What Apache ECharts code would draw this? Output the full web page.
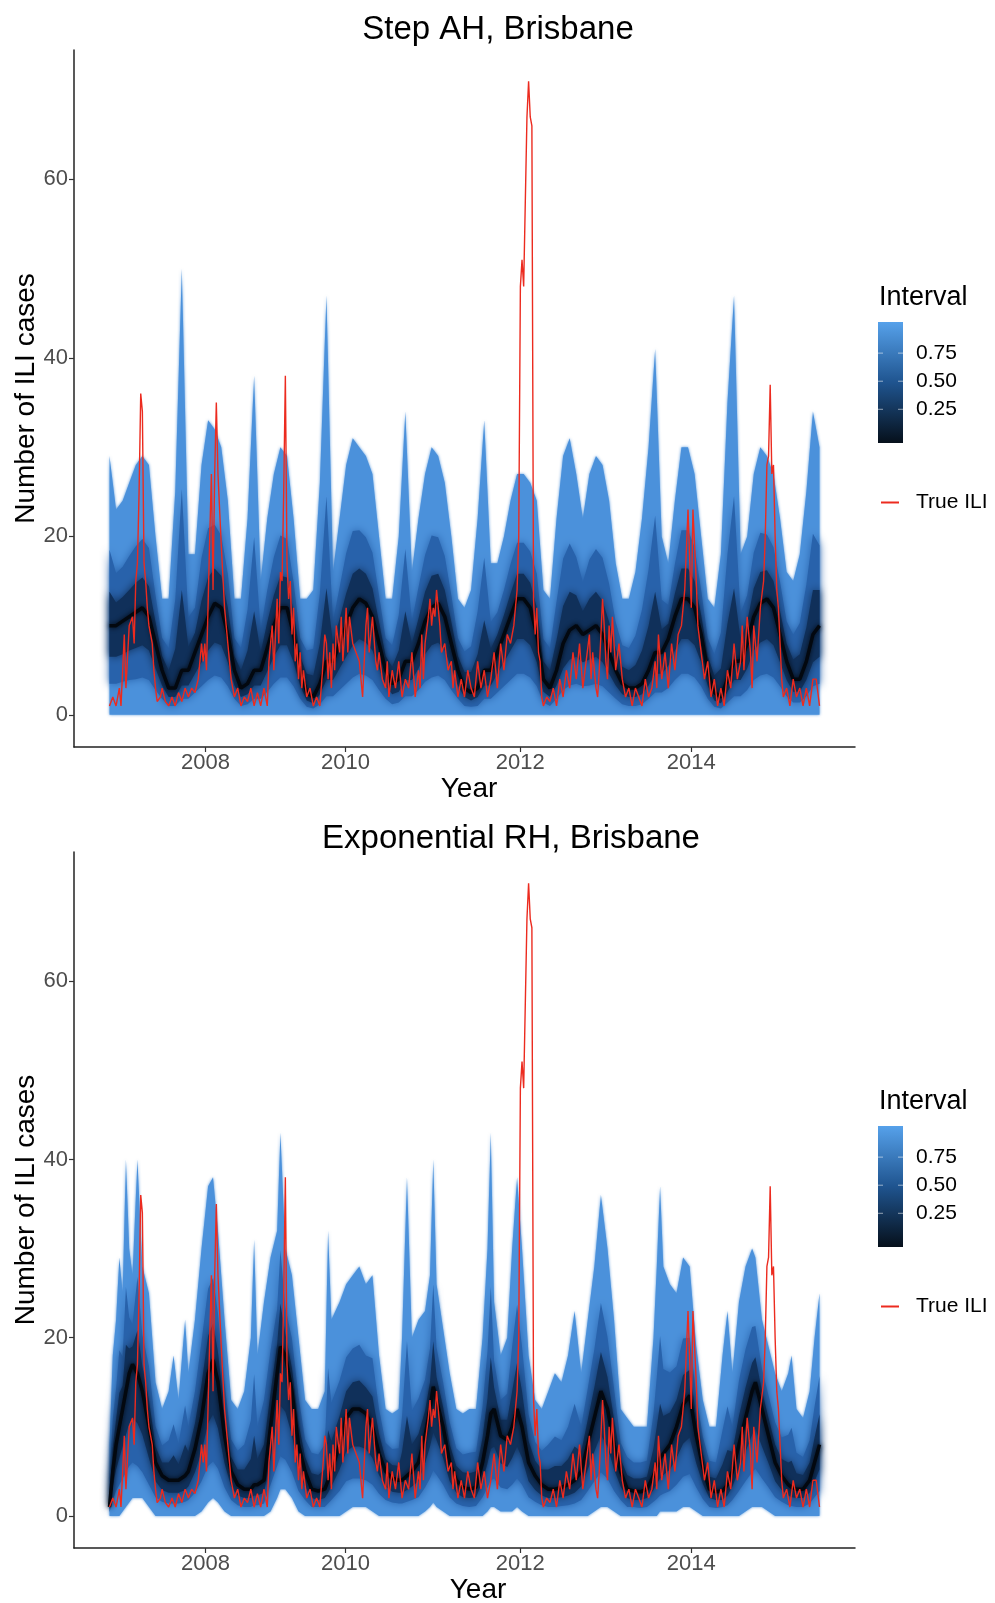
<!DOCTYPE html>
<html>
<head>
<meta charset="utf-8">
<title>ILI forecast intervals, Brisbane</title>
<script src="https://cdn.jsdelivr.net/npm/echarts@6/dist/echarts.min.js"></script>
<style>
  html, body { margin: 0; padding: 0; background: #ffffff; }
  #chart { width: 995px; height: 1603px; }
</style>
</head>
<body>
<div id="chart"></div>
<script>
// ---- Axis ticks ----------------------------------------------------------
// x positions are the running week index of the series
const yearTickWeeks = [58.4, 143.6, 249.9, 353.9];
const yearTickLabels = ['2008', '2010', '2012', '2014'];
const caseTicks = [0, 20, 40, 60];
const intervalBreaks = [0.25, 0.5, 0.75];
const intervalBreakLabels = ['0.25', '0.50', '0.75'];

// ---- Observed weekly ILI counts ("True ILI") -----------------------------
const iliWeeks = [
  0,2,4,6,7,9,10,12,14,15, 16,17,18,19,20,21,22,23,24,26,
  27,28,29,31,32,34,36,38,40,42, 44,46,48,50,52,54,56,57,58,59,
  61,62,63,64,65,66,67,68,70,72, 74,76,78,80,82,84,86,88,90,92,
  94,96,97,99,100,101,102,103,104,105, 106,107,108,109,110,111,112,113,114,115,
  116,117,118,120,122,124,126,128,130,131, 132,133,134,135,136,137,138,140,141,142,
  143,144,145,146,148,150,152,154,156,157, 158,160,162,163,164,166,168,169,170,172,
  174,176,178,180,182,184,186,188,189,190, 191,192,194,195,196,197,198,199,200,201,
  202,204,206,208,209,210,212,214,216,218, 220,222,224,226,228,230,232,234,236,238,
  240,242,244,246,248,249,250,251,252,253, 254,255,256,257,258,259,260,261,262,263,
  264,266,268,270,272,274,276,278,280,282, 284,286,288,290,292,293,294,296,297,298,
  300,301,302,303,304,305,306,308,310,312, 314,316,318,320,322,324,326,328,330,332,
  333,334,336,338,340,342,344,346,348,350, 352,353,354,355,356,357,358,360,362,364,
  366,368,370,372,374,376,378,380,382,384, 385,386,388,390,391,392,394,396,398,399,
  400,401,402,403,404,405,406,407,408,409, 410,412,414,416,418,420,422,424,426,428,
  430,431,432
];
const iliCases = [
  1,2,1,3,1,9,3,10,11,8, 15,17,25,36,34,17,15,12,10,8,
  5,3,1.5,2,3,1.5,1,2,1,2.5, 1.5,3,2,3,2.5,4,8,6,8,5,
  20,27,14,27,35,27,27,19,12,8, 4,2,3,1,2,1.5,3,1,2.5,1,
  3,1,6,10,5,9,13,8,16,15, 25,38,17,13,15,9,12,6,8,4,
  7,3,5,2,3,1,2,1,6,9, 8,4,7,3,8,5,10,7,11,6,
  9,12,7,11,8,7,6,2,10,12, 7,11,6,5,7,4,3,6,2,5,
  3,6,2,4,3,7,2,5,3,9, 4,8,11,13,10,12,11,14,12,10,
  7,8,5,6,3,5,2,4,2,5, 3,2,6,3,5,2,4,7,3,8,
  5,9,8,10,14,20,48,51,48,48, 67,71,67,66,13,9,12,7,6,2,
  1,2,1.5,3,1,4,2,5,3,7, 4,8,3,6,9,4,7,3,2,5,
  13,10,6,4,10,7,11,5,8,4, 2,3,1,3,2,1,4,2,3,6,
  3,9,4,7,3,8,5,9,10,14, 23,23,12,23,23,15,10,7,4,6,
  2,4,1,3,1,5,3,8,4,6, 10,5,11,7,3,10,6,12,15,20,
  28,29,37,27,28,20,14,12,8,4, 2,3,1,4,2,3,1,3,1,4,
  4,4,1
];

// ---- Step AH model: forecast distribution (every 4 weeks) ----------------
const stepWeeks = [
  0,4,8,12,16,20,24,28,32,36, 40,44,48,52,56,60,64,68,72,76,
  80,84,88,92,96,100,104,108,112,116, 120,124,128,132,136,140,144,148,152,156,
  160,164,168,172,176,180,184,188,192,196, 200,204,208,212,216,220,224,228,232,236,
  240,244,248,252,256,260,264,268,272,276, 280,284,288,292,296,300,304,308,312,316,
  320,324,328,332,336,340,344,348,352,356, 360,364,368,372,376,380,384,388,392,396,
  400,404,408,412,416,420,424,428,432
];
const stepOuterHi = [
  29,23,24,26,28,29,28,20,13,13, 25,50,18,18,28,33,32,30,24,13,
  13,22,38,15,22,27,30,29,22,13, 13,14,26,47,16,22,28,31,30,29,
  27,20,13,13,20,34,16,22,27,30, 29,26,20,13,12,14,22,33,17,17,
  20,24,27,27,26,24,14,13,22,29, 31,27,22,27,29,28,24,17,13,13,
  16,22,30,41,20,17,24,30,30,27, 20,13,12,18,35,47,18,20,27,30,
  29,27,22,16,15,18,25,34,30
];
const stepMidHi = [
  18.5,15.9,16.6,17.8,18.9,19.7,18.7,13.4,8.6,7.5, 12.9,25.3,10.9,12,17.6,20.9,21.3,20.1,15.8,8.6,
  7.5,11.8,19.9,9.5,14,17.7,20.1,19.7,14.9,8.6, 7.2,7.4,13.6,24.5,10.5,14.3,18.1,20.6,20.7,19.9,
  18.2,13.4,8.6,7.8,11.2,18.6,10.5,14.3,17.9,20.1, 19.9,17.8,13.4,8.6,7.1,7.7,11.6,17.6,10.4,11.5,
  14,16.9,19.3,19.3,18.3,15.8,8.5,7.5,12.7,17.5, 19.2,17.7,14.9,17.4,18.6,17.6,14.7,10.4,7.8,7.5,
  8.9,11.8,16.3,22.3,12.9,12.3,16.9,20.7,20.7,18.8, 14,8.6,6.8,9.2,18,24.5,11.4,13.4,18.2,20.4,
  20.2,18.8,14.9,10.5,9,10.3,14.6,20.3,19
];
const stepInnerHi = [
  13.8,12.6,13.2,14,14.8,15.4,14.4,10.4,6.6,5, 7.4,14,7.6,9.2,12.8,15.4,16.4,15.6,12,6.6,
  5,7.2,11.6,7,10.4,13.4,15.6,15.4,11.6,6.6, 4.6,4.4,8,14.2,8,10.8,13.6,15.8,16.4,15.8,
  14.2,10.4,6.6,5.4,7.2,11.6,8,10.8,13.8,15.6, 15.8,14,10.4,6.6,4.8,4.8,6.8,10.6,7.4,9,
  11.2,13.6,15.8,15.8,14.8,12,6,5,8.4,12.2, 13.8,13.4,11.6,13,13.8,12.8,10.4,7.4,5.4,5,
  5.6,7.2,10,13.8,9.6,10.2,13.6,16.4,16.4,15, 11.2,6.6,4.4,5.2,10.2,14.2,8.4,10.4,14.2,16,
  16.2,15,11.6,8,6.2,6.8,9.8,14,14
];
const stepMedian = [
  10,10,10.5,11,11.5,12,11,8,5,3, 3,5,5,7,9,11,12.5,12,9,5,
  3,3.5,5,5,7.5,10,12,12,9,5, 2.5,2,3.5,6,6,8,10,12,13,12.5,
  11,8,5,3.5,4,6,6,8,10.5,12, 12.5,11,8,5,3,2.5,3,5,5,7,
  9,11,13,13,12,9,4,3,5,8, 9.5,10,9,9.5,10,9,7,5,3.5,3,
  3,3.5,5,7,7,8.5,11,13,13,12, 9,5,2.5,2,4,6,6,8,11,12.5,
  13,12,9,6,4,4,6,9,10
];
const stepInnerLo = [
  6.5,6.5,6.8,7.2,7.5,7.8,7.2,5.2,3.3,2, 2,3.3,3.3,4.6,5.9,7.2,8.1,7.8,5.9,3.3,
  2,2.3,3.3,3.3,4.9,6.5,7.8,7.8,5.9,3.3, 1.6,1.3,2.3,3.9,3.9,5.2,6.5,7.8,8.5,8.1,
  7.2,5.2,3.3,2.3,2.6,3.9,3.9,5.2,6.8,7.8, 8.1,7.2,5.2,3.3,2,1.6,2,3.3,3.3,4.6,
  5.9,7.2,8.5,8.5,7.8,5.9,2.6,2,3.3,5.2, 6.2,6.5,5.9,6.2,6.5,5.9,4.6,3.3,2.3,2,
  2,2.3,3.3,4.6,4.6,5.5,7.2,8.5,8.5,7.8, 5.9,3.3,1.6,1.3,2.6,3.9,3.9,5.2,7.2,8.1,
  8.5,7.8,5.9,3.9,2.6,2.6,3.9,5.9,6.5
];
const stepMidLo = [
  3.5,3.5,3.7,3.9,4,4.2,3.9,2.8,1.8,1, 1,1.8,1.8,2.5,3.2,3.9,4.4,4.2,3.2,1.8,
  1,1.2,1.8,1.8,2.6,3.5,4.2,4.2,3.2,1.8, 0.9,0.7,1.2,2.1,2.1,2.8,3.5,4.2,4.6,4.4,
  3.9,2.8,1.8,1.2,1.4,2.1,2.1,2.8,3.7,4.2, 4.4,3.9,2.8,1.8,1,0.9,1,1.8,1.8,2.5,
  3.2,3.9,4.6,4.6,4.2,3.2,1.4,1,1.8,2.8, 3.3,3.5,3.2,3.3,3.5,3.2,2.5,1.8,1.2,1,
  1,1.2,1.8,2.5,2.5,3,3.9,4.6,4.6,4.2, 3.2,1.8,0.9,0.7,1.4,2.1,2.1,2.8,3.9,4.4,
  4.6,4.2,3.2,2.1,1.4,1.4,2.1,3.2,3.5
];
const stepOuterLo = [
  0,0,0,0,0,0,0,0,0,0, 0,0,0,0,0,0,0,0,0,0,
  0,0,0,0,0,0,0,0,0,0, 0,0,0,0,0,0,0,0,0,0,
  0,0,0,0,0,0,0,0,0,0, 0,0,0,0,0,0,0,0,0,0,
  0,0,0,0,0,0,0,0,0,0, 0,0,0,0,0,0,0,0,0,0,
  0,0,0,0,0,0,0,0,0,0, 0,0,0,0,0,0,0,0,0,0,
  0,0,0,0,0,0,0,0,0
];

// ---- Exponential RH model: forecast distribution -------------------------
const expWeeks = [
  0,2,4,6,8,10,12,14,17,20, 24,28,32,36,39,42,46,48,52,56,
  60,63,66,70,74,78,82,86,88,90, 94,98,102,104,107,111,115,119,123,127,
  131,133,135,140,144,148,152,156,160,164, 168,172,176,178,181,184,188,192,195,197,
  199,203,207,211,215,219,223,227,230,232, 234,238,242,245,248,251,255,259,263,267,
  271,275,279,283,287,291,295,299,303,307, 311,315,319,323,327,331,333,335,337,341,
  345,349,353,357,361,365,369,373,376,379, 383,387,391,393,397,401,405,409,413,415,
  418,422,426,429,432
];
const expOuterHi = [
  8,18,22,29,25,40,30,27,40,28, 25,15,12,14,18,13,22,16,22,30,
  37,38,32,22,13,12,14,20,31,18, 24,29,32,43,30,27,20,13,12,12,
  14,32,22,24,26,27,28,26,27,18, 12,11.5,12,20,38,20,22,23,27,40,
  26,21,16,12,11.5,12,12,20,30,43, 24,18,20,30,38,30,18,13,12,14,
  16,15,18,23,16,22,28,36,30,22, 12,11,10,10,10,20,28,37,28,26,
  25,29,28,19,13,10,10,18,23,16, 24,28,30,29,22,19,16,14,16,18,
  12,11,14,20,25
];
const expMidHi = [
  4.2,10.9,14.3,18.6,17.9,25.7,22.3,21.5,26.8,20.3, 16.8,10.1,7.9,8.5,10.3,8.1,12.4,10,14,19.6,
  25.5,26.7,22.7,14.9,8.6,7.3,8,10.7,15.9,10, 13,18.6,23.2,29.8,23.4,19.9,13.4,8.6,7.1,6.9,
  8,16.6,12.7,15.2,17.8,18.8,19.2,18,17.7,12, 8.2,7.5,7.6,11.2,19.6,11.8,13.2,15.3,18.8,26,
  18.9,15,10.5,7.6,6.9,7.1,7.2,12.3,18.5,25.7, 17.4,13,13.7,19,23.7,19,11.4,8.3,7.3,8,
  8.9,8.5,10,12.6,10,14.3,18.7,23.9,20.1,14.3, 8.2,6.6,6,6,6.2,11.5,15.6,20.2,16.5,16.1,
  16.8,19.9,20,13.5,8.9,6.2,6,9.6,12.3,10, 15.2,18.7,21.2,21.3,16.5,13.5,10.5,8.8,9.1,9.9,
  7.1,6.6,8.5,12.3,15.7
];
const expInnerHi = [
  2.4,7.6,10.8,13.8,14.6,19.2,18.8,19,20.8,16.8, 13,7.8,6,6,6.8,5.8,8,7.2,10.4,14.8,
  20.2,21.6,18.4,11.6,6.6,5.2,5.2,6.4,9,6.4, 8,13.8,19.2,23.8,20.4,16.6,10.4,6.6,4.8,4.6,
  5.2,9.6,8.4,11.2,14,15,15.2,14.4,13.4,9.2, 6.4,5.7,5.6,7.2,11.2,8,9.2,11.8,15,19.6,
  15.6,12.2,8,5.6,4.9,4.8,5,8.8,13.2,17.8, 14.4,10.8,10.8,14,17.2,14,8.4,6.2,5.2,5.2,
  5.6,5.6,6.4,7.8,7.2,10.8,14.4,18.4,15.6,10.8, 6.4,4.6,4.2,4.2,4.4,7.6,10,12.6,11.2,11.6,
  13,15.8,16.4,11,7,4.4,4.2,5.8,7.4,7.2, 11.2,14.4,17.2,17.8,14,11,8,6.4,6,6.2,
  4.8,4.6,6,8.8,11.4
];
const expMedian = [
  1,5,8,10,12,14,16,17,16,14, 10,6,4.5,4,4,4,4.5,5,7.5,11,
  16,17.5,15,9,5,3.5,3,3,3.5,3.5, 4,10,16,19,18,14,8,5,3,2.8,
  3,4,5,8,11,12,12,11.5,10,7, 5,4.2,4,4,4.5,5,6,9,12,14.5,
  13,10,6,4,3.2,3,3.2,6,9,11.5, 12,9,8.5,10,12,10,6,4.5,3.5,3,
  3,3.2,3.5,4,5,8,11,14,12,8, 5,3,2.8,2.7,3,4.5,5.5,6.5,7,8,
  10,12.5,13.5,9,5.5,3,2.7,2.8,3.5,5, 8,11,14,15,12,9,6,4.5,3.5,3.2,
  3,3,4,6,8
];
const expInnerLo = [
  0.7,3.3,5.2,6.5,7.8,9.1,10.4,11,10.4,9.1, 6.5,3.9,2.9,2.6,2.6,2.6,2.9,3.3,4.9,7.2,
  10.4,11.4,9.8,5.9,3.3,2.3,2,2,2.3,2.3, 2.6,6.5,10.4,12.4,11.7,9.1,5.2,3.3,2,1.8,
  2,2.6,3.3,5.2,7.2,7.8,7.8,7.5,6.5,4.6, 3.3,2.7,2.6,2.6,2.9,3.3,3.9,5.9,7.8,9.4,
  8.5,6.5,3.9,2.6,2.1,2,2.1,3.9,5.9,7.5, 7.8,5.9,5.5,6.5,7.8,6.5,3.9,2.9,2.3,2,
  2,2.1,2.3,2.6,3.3,5.2,7.2,9.1,7.8,5.2, 3.3,2,1.8,1.8,2,2.9,3.6,4.2,4.6,5.2,
  6.5,8.1,8.8,5.9,3.6,2,1.8,1.8,2.3,3.3, 5.2,7.2,9.1,9.8,7.8,5.9,3.9,2.9,2.3,2.1,
  2,2,2.6,3.9,5.2
];
const expMidLo = [
  0.4,1.8,2.8,3.5,4.2,4.9,5.6,6,5.6,4.9, 3.5,2.1,1.6,1.4,1.4,1.4,1.6,1.8,2.6,3.9,
  5.6,6.1,5.3,3.2,1.8,1.2,1,1,1.2,1.2, 1.4,3.5,5.6,6.7,6.3,4.9,2.8,1.8,1,1,
  1,1.4,1.8,2.8,3.9,4.2,4.2,4,3.5,2.5, 1.8,1.5,1.4,1.4,1.6,1.8,2.1,3.2,4.2,5.1,
  4.6,3.5,2.1,1.4,1.1,1,1.1,2.1,3.2,4, 4.2,3.2,3,3.5,4.2,3.5,2.1,1.6,1.2,1,
  1,1.1,1.2,1.4,1.8,2.8,3.9,4.9,4.2,2.8, 1.8,1,1,0.9,1,1.6,1.9,2.3,2.5,2.8,
  3.5,4.4,4.7,3.2,1.9,1,0.9,1,1.2,1.8, 2.8,3.9,4.9,5.3,4.2,3.2,2.1,1.6,1.2,1.1,
  1,1,1.4,2.1,2.8
];
const expOuterLo = [
  0,0,0,0,0.5,1,1.5,2,2,2, 1,0,0,0,0,0,0,0,0,0.5,
  1.5,2,1.5,0.5,0,0,0,0,0,0, 0,0.5,2,3,3,2,0.5,0,0,0,
  0,0,0,0,0.5,1,1,1,0.5,0, 0,0,0,0,0,0,0,0.5,1,1.5,
  1,0.5,0,0,0,0,0,0,0.5,1, 1,0.5,0.5,0.5,1,0.5,0,0,0,0,
  0,0,0,0,0,0,0.5,1,1,0.5, 0,0,0,0,0,0,0,0.5,0.5,0.5,
  0.5,1,1,0.5,0,0,0,0,0,0, 0,0.5,1,1,1,0.5,0,0,0,0,
  0,0,0,0,0
];

// ---- Styling ---------------------------------------------------------------
const FONT = '"Liberation Sans", Arial, Helvetica, sans-serif';
const BAND_STYLES = {
  outer: { fill: '#4b91db', blur: 3 },
  mid:   { fill: '#2862ab', blur: 9 },
  inner: { fill: '#10305a', blur: 9 }
};
const MEDIAN_COLOR = '#03080f';
const ILI_COLOR = '#ec2b1f';
const AXIS_COLOR = '#222222';

const panels = [
  {
    title: 'Step AH, Brisbane', titleX: 498, titleY: 30,
    grid: { left: 74, top: 50, width: 781, height: 697, outerBoundsMode: 'none', containLabel: false },
    weeks: stepWeeks,
    outer: [stepOuterLo, stepOuterHi], mid: [stepMidLo, stepMidHi], inner: [stepInnerLo, stepInnerHi],
    median: stepMedian, legendTop: 0
  },
  {
    title: 'Exponential RH, Brisbane', titleX: 511, titleY: 839,
    grid: { left: 74, top: 852, width: 781, height: 696, outerBoundsMode: 'none', containLabel: false },
    weeks: expWeeks,
    outer: [expOuterLo, expOuterHi], mid: [expMidLo, expMidHi], inner: [expInnerLo, expInnerHi],
    median: expMedian, legendTop: 804
  }
];

function yearLabel(v) {
  const i = yearTickWeeks.findIndex(w => Math.abs(w - v) < 0.01);
  return i < 0 ? '' : yearTickLabels[i];
}

// one filled polygon per interval band, drawn through the panel's axes;
// a same-coloured blur softens the step between neighbouring bands
function bandSeries(p, gi, bounds, look, name) {
  const lo = bounds[0], hi = bounds[1];
  const data = p.weeks.map((w, i) => [w, lo[i], hi[i]]);
  return {
    type: 'custom', name, xAxisIndex: gi, yAxisIndex: gi, silent: true,
    encode: { x: 0, y: [1, 2] }, data, clip: true,
    renderItem(params, api) {
      if (params.dataIndex !== 0) return null;
      const upper = data.map(d => api.coord([d[0], d[2]]));
      const lower = data.map(d => api.coord([d[0], d[1]])).reverse();
      return {
        type: 'polygon', shape: { points: upper.concat(lower) },
        style: { fill: look.fill, shadowBlur: look.blur, shadowColor: look.fill }
      };
    }
  };
}

const grids = [], xAxes = [], yAxes = [], series = [], legends = [], graphics = [];

panels.forEach((p, gi) => {
  grids.push(p.grid);
  xAxes.push({
    type: 'value', gridIndex: gi, min: -21.6, max: 453.6,
    name: 'Year', nameLocation: 'middle', nameGap: 26,
    nameTextStyle: { fontSize: 28, color: '#000', fontFamily: FONT, verticalAlign: 'top', padding: [0, 0, 0, gi === 0 ? 9 : 27] },
    axisLine: { show: true, onZero: false, lineStyle: { color: AXIS_COLOR, width: 1.5 } },
    axisTick: { show: true, length: 5, customValues: yearTickWeeks, lineStyle: { color: '#333', width: 1.2 } },
    axisLabel: { customValues: yearTickWeeks, formatter: yearLabel, fontSize: 22, color: '#4d4d4d', margin: 5, fontFamily: FONT },
    splitLine: { show: false }
  });
  yAxes.push({
    type: 'value', gridIndex: gi, min: -3.6, max: 74.5,
    name: 'Number of ILI cases', nameLocation: 'middle', nameGap: 34, nameRotate: 90,
    nameMoveOverlap: false,
    nameTextStyle: { fontSize: 28, color: '#000', fontFamily: FONT },
    axisLine: { show: true, onZero: false, lineStyle: { color: AXIS_COLOR, width: 1.5 } },
    axisTick: { show: true, length: 5, customValues: caseTicks, lineStyle: { color: '#333', width: 1.2 } },
    axisLabel: { customValues: caseTicks, fontSize: 22, color: '#4d4d4d', margin: 6, fontFamily: FONT },
    splitLine: { show: false }
  });

  series.push(bandSeries(p, gi, p.outer, BAND_STYLES.outer, 'outer interval'));
  series.push(bandSeries(p, gi, p.mid, BAND_STYLES.mid, 'middle interval'));
  series.push(bandSeries(p, gi, p.inner, BAND_STYLES.inner, 'inner interval'));
  series.push({
    type: 'line', name: 'median', xAxisIndex: gi, yAxisIndex: gi, silent: true,
    data: p.weeks.map((w, i) => [w, p.median[i]]),
    symbol: 'none',
    lineStyle: { color: MEDIAN_COLOR, width: 3.5, shadowBlur: 5, shadowColor: MEDIAN_COLOR },
    itemStyle: { color: MEDIAN_COLOR }
  });
  series.push({
    type: 'line', name: 'True ILI', xAxisIndex: gi, yAxisIndex: gi,
    data: iliWeeks.map((w, i) => [w, iliCases[i]]),
    symbol: 'none', lineStyle: { color: ILI_COLOR, width: 1.4 }, itemStyle: { color: ILI_COLOR }
  });

  legends.push({
    data: ['True ILI'], left: 876, top: 487 + p.legendTop, icon: 'rect',
    itemWidth: 18, itemHeight: 2, selectedMode: false,
    textStyle: { fontSize: 21, color: '#000', fontFamily: FONT, padding: [0, 0, 0, 12] }
  });

  // panel title
  graphics.push({
    type: 'text', x: p.titleX, y: p.titleY,
    style: { text: p.title, fontSize: 33, fill: '#000', fontFamily: FONT, textAlign: 'center', textVerticalAlign: 'middle' }
  });

  // colour bar for the interval level
  const barTop = 322 + p.legendTop, barH = 121, vMax = 1.027, vMin = -0.05;
  const yOf = v => barTop + (vMax - v) / (vMax - vMin) * barH;
  graphics.push({
    type: 'text', x: 879, y: 298 + p.legendTop,
    style: { text: 'Interval', fontSize: 27, fill: '#000', fontFamily: FONT, textVerticalAlign: 'middle' }
  });
  graphics.push({
    type: 'rect', shape: { x: 878, y: barTop, width: 25, height: barH },
    style: {
      fill: new echarts.graphic.LinearGradient(0, 0, 0, 1, [
        { offset: 0, color: '#56a1ea' },
        { offset: 0.5, color: '#1f548f' },
        { offset: 1, color: '#06101b' }
      ])
    }
  });
  intervalBreaks.forEach((v, k) => {
    const y = yOf(v);
    graphics.push({ type: 'line', shape: { x1: 878, y1: y, x2: 883, y2: y }, style: { stroke: 'rgba(255,255,255,0.55)', lineWidth: 1 } });
    graphics.push({ type: 'line', shape: { x1: 898, y1: y, x2: 903, y2: y }, style: { stroke: 'rgba(255,255,255,0.55)', lineWidth: 1 } });
    graphics.push({
      type: 'text', x: 916, y,
      style: { text: intervalBreakLabels[k], fontSize: 21, fill: '#000', fontFamily: FONT, textVerticalAlign: 'middle' }
    });
  });
});

const chart = echarts.init(document.getElementById('chart'), null, { renderer: 'canvas' });
chart.setOption({
  backgroundColor: '#ffffff',
  animation: false,
  textStyle: { fontFamily: FONT },
  grid: grids,
  xAxis: xAxes,
  yAxis: yAxes,
  legend: legends,
  graphic: graphics,
  series
});
</script>
</body>
</html>
